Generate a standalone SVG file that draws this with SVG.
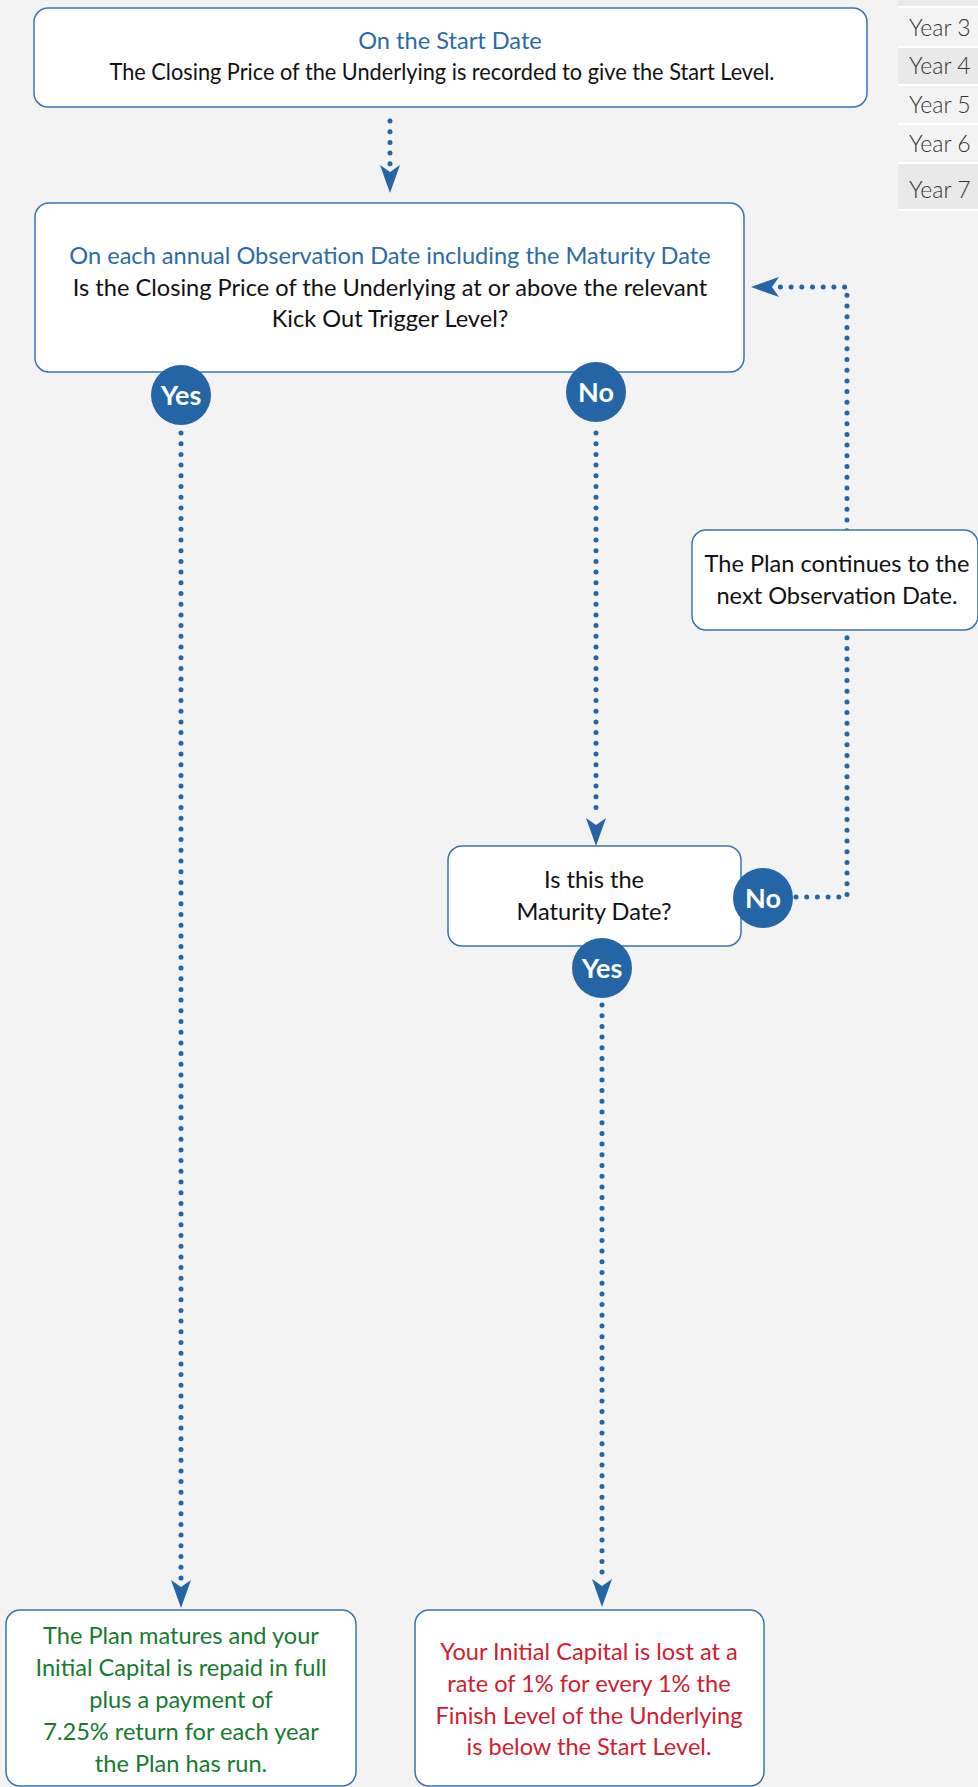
<svg xmlns="http://www.w3.org/2000/svg" xmlns:xlink="http://www.w3.org/1999/xlink" width="978" height="1787" viewBox="0 0 978 1787">
<style>
.box{fill:#ffffff;stroke:#3a74b2;stroke-width:1.5}
.t{font-family:Lato,"Noto Sans","Liberation Sans",sans-serif;font-size:23.6px;fill:#111111;text-anchor:middle}
.blue{fill:#2b6aab}
.green{fill:#177a30}
.red{fill:#d0202f}
.circ{fill:#2365a5}
.ct{font-family:Lato,"Noto Sans","Liberation Sans",sans-serif;font-size:27px;font-weight:bold;fill:#ffffff;text-anchor:middle}
.dot{fill:none;stroke:#2365a5;stroke-width:5;stroke-linecap:round;stroke-dasharray:0 10.7}
.ah{fill:#2365a5}
.yr{font-family:Lato,"Noto Sans","Liberation Sans",sans-serif;font-size:23px;font-weight:300;fill:#333333}
</style>
<defs>
<path id="arrow" d="M0,0 L-10,-28 L0,-21 L10,-28 Z"/>
</defs>
<rect x="0" y="0" width="978" height="1787" fill="#f3f3f3"/>

<g id="table">
<rect x="898" y="0" width="80" height="6" fill="#e9e9e9"/>
<rect x="898" y="6" width="80" height="2" fill="#ffffff"/>
<rect x="898" y="46" width="80" height="2" fill="#ffffff"/>
<rect x="898" y="48" width="80" height="36" fill="#e9e9e9"/>
<rect x="898" y="84" width="80" height="2" fill="#ffffff"/>
<rect x="898" y="123" width="80" height="2" fill="#ffffff"/>
<rect x="898" y="162" width="80" height="2" fill="#ffffff"/>
<rect x="898" y="164" width="80" height="45" fill="#e9e9e9"/>
<rect x="898" y="209" width="80" height="2" fill="#ffffff"/>
<text class="yr" x="909" y="36">Year 3</text>
<text class="yr" x="909" y="74">Year 4</text>
<text class="yr" x="909" y="113">Year 5</text>
<text class="yr" x="909" y="152">Year 6</text>
<text class="yr" x="909" y="198">Year 7</text>
</g>

<g id="connectors">
<path class="dot" d="M390,121 V165"/>
<use xlink:href="#arrow" class="ah" transform="translate(390,193)"/>
<path class="dot" d="M181,433 V1580"/>
<use xlink:href="#arrow" class="ah" transform="translate(181,1608)"/>
<path class="dot" d="M596,433 V818"/>
<use xlink:href="#arrow" class="ah" transform="translate(596,846)"/>
<path class="dot" d="M602,1005 V1578"/>
<use xlink:href="#arrow" class="ah" transform="translate(602,1607)"/>
<path class="dot" d="M796,897 H847 V287 H778"/>
<use xlink:href="#arrow" class="ah" transform="translate(751,287) rotate(90)"/>
</g>

<g id="start">
<rect class="box" x="34" y="8" width="833" height="99" rx="14"/>
<text class="t blue" x="450" y="49" font-size="24">On the Start Date</text>
<text class="t" x="442" y="80" font-size="20" textLength="665" lengthAdjust="spacingAndGlyphs">The Closing Price of the Underlying is recorded to give the Start Level.</text>
</g>

<g id="observation">
<rect class="box" x="35" y="203" width="709" height="169" rx="14"/>
<text class="t blue" x="390" y="264">On each annual Observation Date including the Maturity Date</text>
<text class="t" x="390" y="296">Is the Closing Price of the Underlying at or above the relevant</text>
<text class="t" x="390" y="327">Kick Out Trigger Level?</text>
</g>

<g id="yes1">
<circle class="circ" cx="181" cy="395" r="30"/>
<text class="ct" x="181" y="405">Yes</text>
</g>
<g id="no1">
<circle class="circ" cx="596" cy="392" r="30"/>
<text class="ct" x="596" y="402">No</text>
</g>

<g id="continues">
<rect class="box" x="692" y="530" width="286" height="100" rx="14"/>
<text class="t" x="837" y="572" font-size="23.2">The Plan continues to the</text>
<text class="t" x="837" y="604" font-size="23.2">next Observation Date.</text>
</g>

<g id="maturity">
<rect class="box" x="448" y="846" width="293" height="100" rx="14"/>
<text class="t" x="594" y="888">Is this the</text>
<text class="t" x="594" y="920">Maturity Date?</text>
</g>

<g id="no2">
<circle class="circ" cx="763" cy="898" r="30"/>
<text class="ct" x="763" y="908">No</text>
</g>
<g id="yes2">
<circle class="circ" cx="602" cy="968" r="30"/>
<text class="ct" x="602" y="978">Yes</text>
</g>

<g id="matures">
<rect class="box" x="6" y="1610" width="350" height="176" rx="14"/>
<text class="t green" x="181" y="1644">The Plan matures and your</text>
<text class="t green" x="181" y="1676">Initial Capital is repaid in full</text>
<text class="t green" x="181" y="1708">plus a payment of</text>
<text class="t green" x="181" y="1740">7.25% return for each year</text>
<text class="t green" x="181" y="1772">the Plan has run.</text>
</g>

<g id="lost">
<rect class="box" x="415" y="1610" width="349" height="176" rx="14"/>
<text class="t red" x="589" y="1660">Your Initial Capital is lost at a</text>
<text class="t red" x="589" y="1692">rate of 1% for every 1% the</text>
<text class="t red" x="589" y="1724">Finish Level of the Underlying</text>
<text class="t red" x="589" y="1755">is below the Start Level.</text>
</g>
</svg>
